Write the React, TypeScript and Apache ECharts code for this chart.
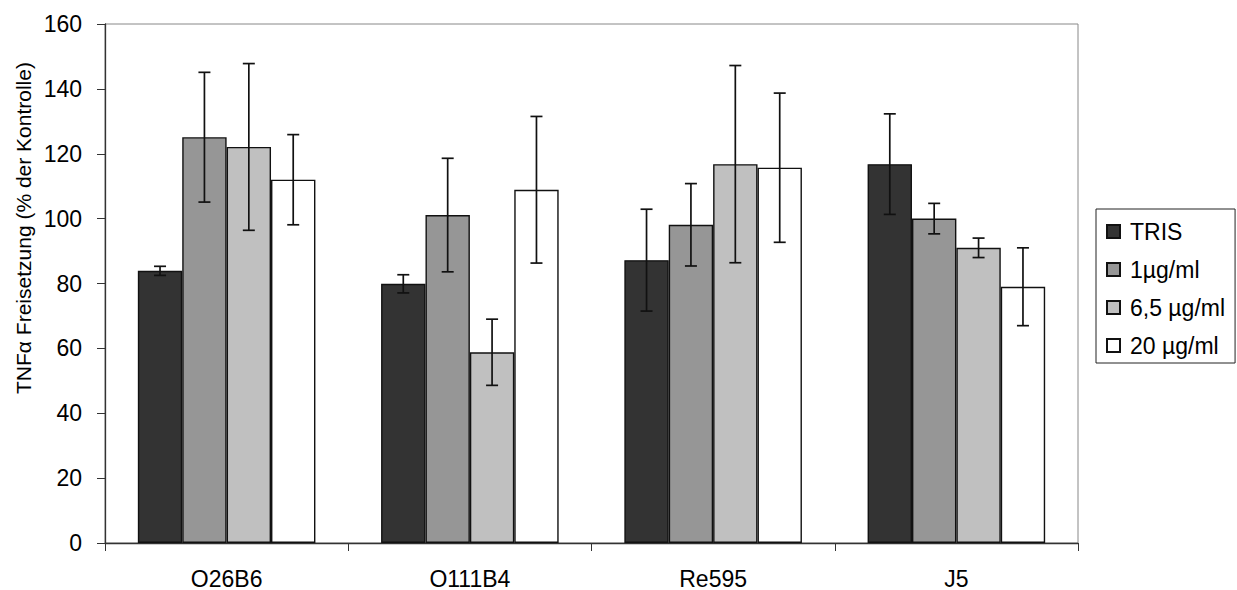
import React, { useEffect, useRef } from "react";
import * as echarts from "echarts";

// Bacterial strains on the x axis
const categories = ["O26B6", "O111B4", "Re595", "J5"];

// Treatment groups
const seriesNames = ["TRIS", "1µg/ml", "6,5 µg/ml", "20 µg/ml"];
const seriesColors = ["#333333", "#969696", "#c0c0c0", "#ffffff"];

// Mean TNFα release (% of control) per treatment
const trisValues = [83.9, 79.9, 87.2, 116.8];
const dose1Values = [125.1, 101.1, 98.1, 100.0];
const dose65Values = [122.1, 58.8, 116.8, 91.0];
const dose20Values = [112.0, 108.9, 115.7, 79.0];

// Standard deviations (symmetric error bars)
const trisErrors = [1.4, 2.8, 15.7, 15.5];
const dose1Errors = [20.0, 17.5, 12.7, 4.7];
const dose65Errors = [25.7, 10.2, 30.4, 3.0];
const dose20Errors = [13.9, 22.6, 23.0, 12.0];

// y axis scale
const yMin = 0;
const yMax = 160;
const yInterval = 20;

const FONT = "'Liberation Sans', Arial, Helvetica, sans-serif";
const BAR_CATEGORY_GAP = 0.27;

export default function App() {
  const ref = useRef<HTMLDivElement>(null);

  useEffect(() => {
    if (!ref.current) return;
    const chart = echarts.init(ref.current, undefined, { renderer: "svg" });

    const values = [trisValues, dose1Values, dose65Values, dose20Values];
    const errors = [trisErrors, dose1Errors, dose65Errors, dose20Errors];
    const nSeries = values.length;

    const errorData: number[][] = [];
    values.forEach((vals, s) => {
      vals.forEach((v, c) => {
        errorData.push([c, s, v, errors[s][c]]);
      });
    });

    const barSeries = values.map((vals, s) => ({
      name: seriesNames[s],
      type: "bar",
      data: vals,
      barGap: "0%",
      barCategoryGap: `${BAR_CATEGORY_GAP * 100}%`,
      itemStyle: {
        color: seriesColors[s],
        borderColor: "#111",
        borderWidth: 1.4,
      },
    }));

    const errorSeries = {
      type: "custom",
      name: "errors",
      z: 10,
      encode: { x: 0, y: 2 },
      data: errorData,
      renderItem: (params: any, api: any) => {
        const c = api.value(0);
        const s = api.value(1);
        const m = api.value(2);
        const e = api.value(3);
        const catW = api.size([1, 0])[0];
        const bw = (catW * (1 - BAR_CATEGORY_GAP)) / nSeries;
        const center = api.coord([c, m]);
        const x = center[0] + (s - (nSeries - 1) / 2) * bw;
        const yTop = api.coord([c, m + e])[1];
        const yBot = api.coord([c, m - e])[1];
        const cap = 6;
        const style = { stroke: "#111", lineWidth: 1.7 };
        return {
          type: "group",
          children: [
            { type: "line", shape: { x1: x, y1: yTop, x2: x, y2: yBot }, style },
            { type: "line", shape: { x1: x - cap, y1: yTop, x2: x + cap, y2: yTop }, style },
            { type: "line", shape: { x1: x - cap, y1: yBot, x2: x + cap, y2: yBot }, style },
          ],
        };
      },
    };

    chart.setOption({
      animation: false,
      backgroundColor: "#ffffff",
      textStyle: { fontFamily: FONT },
      grid: {
        left: 105,
        top: 24,
        width: 973,
        height: 519,
        show: true,
        borderColor: "#888",
        borderWidth: 1,
        backgroundColor: "transparent",
      },
      legend: {
        data: seriesNames,
        orient: "vertical",
        left: 1096,
        top: 209,
        padding: [11, 10, 6, 10],
        itemWidth: 13,
        itemHeight: 13,
        itemGap: 15,
        icon: "rect",
        borderColor: "#222",
        borderWidth: 1,
        textStyle: {
          fontFamily: FONT,
          fontSize: 23,
          lineHeight: 22,
          color: "#000",
          padding: [0, 0, 0, 5],
        },
      },
      xAxis: {
        type: "category",
        data: categories,
        axisLine: { lineStyle: { color: "#333", width: 1.3 } },
        axisTick: { show: true, inside: false, length: 8, alignWithLabel: false, lineStyle: { color: "#333" } },
        axisLabel: { fontFamily: FONT, fontSize: 23, color: "#000", margin: 24 },
        splitLine: { show: false },
      },
      yAxis: {
        type: "value",
        min: yMin,
        max: yMax,
        interval: yInterval,
        axisLine: { show: true, lineStyle: { color: "#333", width: 1.3 } },
        axisTick: { show: true, inside: false, length: 8, lineStyle: { color: "#333" } },
        axisLabel: { fontFamily: FONT, fontSize: 23, color: "#000", margin: 23 },
        splitLine: { show: false },
      },
      graphic: [
        {
          type: "text",
          x: 23,
          y: 228,
          rotation: Math.PI / 2,
          style: {
            text: "TNFα Freisetzung (% der Kontrolle)",
            fontFamily: FONT,
            fontSize: 21,
            fill: "#000",
            align: "center",
            verticalAlign: "middle",
          },
        },
      ],
      series: [...barSeries, errorSeries],
    });

    return () => chart.dispose();
  }, []);

  return (
    <div
      ref={ref}
      style={{ position: "fixed", left: 0, top: 0, width: 1237, height: 590, background: "#fff" }}
    />
  );
}
